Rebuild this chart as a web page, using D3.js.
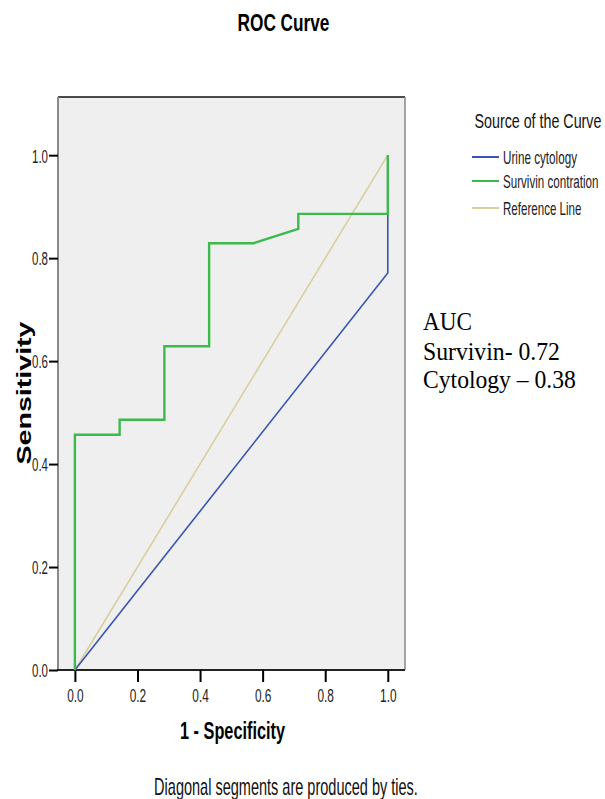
<!DOCTYPE html>
<html>
<head>
<meta charset="utf-8">
<script src="https://cdn.jsdelivr.net/npm/d3@7"></script>
<style>
  body { margin: 0; background: #fff; }
</style>
</head>
<body>
<svg id="roc" width="605" height="799"></svg>
<script>
// ROC points (x = 1 - specificity, y = sensitivity)
const survivinFpr = [0, 0, 0.143, 0.143, 0.286, 0.286, 0.429, 0.429, 0.571, 0.714, 0.714, 1, 1]
const survivinTpr = [0, 0.457, 0.457, 0.486, 0.486, 0.629, 0.629, 0.829, 0.829, 0.857, 0.886, 0.886, 1]
const cytologyFpr = [0, 1, 1]
const cytologyTpr = [0, 0.771, 1]
const referenceFpr = [0, 1]
const referenceTpr = [0, 1]

const tickValues = [0, 0.2, 0.4, 0.6, 0.8, 1.0]
const legendNames = ["Urine cytology", "Survivin contration", "Reference Line"]
const aucLines = ["AUC", "Survivin- 0.72", "Cytology \u2013 0.38"]

const colors = {cytology: "#3a56b4", survivin: "#3dba4c", reference: "#d8cf9e"}
const sans = "'Liberation Sans', Arial, sans-serif"
const serif = "'Liberation Serif', 'Times New Roman', serif"

const svg = d3.select("#roc")
const plot = {left: 58, right: 405, top: 97, bottom: 670}

function squeeze(sel, w) {
  sel.each(function(d, i) {
    const t = d3.select(this)
    const target = typeof w === "function" ? w(d, i) : w
    const natural = this.getComputedTextLength()
    const tx = +t.attr("x") || 0
    const ty = +t.attr("y") || 0
    const rot = t.attr("data-rot") || 0
    t.attr("x", 0).attr("y", 0)
      .attr("transform", `translate(${tx},${ty}) rotate(${rot}) scale(${target / natural},1)`)
  })
  return sel
}

const x = d3.scaleLinear().domain([-0.054, 1.055]).range([plot.left, plot.right])
const y = d3.scaleLinear().domain([0, 1.113]).range([plot.bottom, plot.top])

// plot background and frame
svg.append("rect")
  .attr("x", plot.left).attr("y", plot.top)
  .attr("width", plot.right - plot.left).attr("height", plot.bottom - plot.top)
  .attr("fill", "#efefef")
svg.append("line").attr("x1", plot.left).attr("x2", plot.right).attr("y1", plot.top).attr("y2", plot.top)
  .attr("stroke", "#111").attr("stroke-width", 1.5)
svg.append("line").attr("x1", plot.right).attr("x2", plot.right).attr("y1", plot.top).attr("y2", plot.bottom)
  .attr("stroke", "#8a8a8a").attr("stroke-width", 1.5)
svg.append("line").attr("x1", plot.left).attr("x2", plot.left).attr("y1", plot.top).attr("y2", plot.bottom)
  .attr("stroke", "#8a8a8a").attr("stroke-width", 2)
svg.append("line").attr("x1", plot.left - 1).attr("x2", plot.right).attr("y1", plot.bottom).attr("y2", plot.bottom)
  .attr("stroke", "#222").attr("stroke-width", 2)

// axes
const yAxis = svg.append("g")
  .attr("transform", `translate(${plot.left},0)`)
  .call(d3.axisLeft(y).tickValues(tickValues).tickFormat(d3.format(".1f")).tickSize(9).tickPadding(1))
yAxis.select(".domain").remove()
yAxis.selectAll(".tick line").attr("stroke", "#000").attr("stroke-width", 2)
squeeze(yAxis.selectAll("text").attr("font-size", 19).attr("font-family", sans)
  .attr("fill", "#222").attr("dy", "0.36em"), 16)

const xAxis = svg.append("g")
  .attr("transform", `translate(0,${plot.bottom})`)
  .call(d3.axisBottom(x).tickValues(tickValues).tickFormat(d3.format(".1f")).tickSize(12).tickPadding(7))
xAxis.select(".domain").remove()
xAxis.selectAll(".tick line").attr("stroke", "#000").attr("stroke-width", 2)
squeeze(xAxis.selectAll("text").attr("font-size", 19).attr("font-family", sans)
  .attr("fill", "#222"), 16.5)

// curves
const line = d3.line().x(d => x(d[0])).y(d => y(d[1]))
const series = [
  {fpr: referenceFpr, tpr: referenceTpr, color: colors.reference, width: 1.6},
  {fpr: cytologyFpr, tpr: cytologyTpr, color: colors.cytology, width: 1.6},
  {fpr: survivinFpr, tpr: survivinTpr, color: colors.survivin, width: 2.4}
]
svg.append("g").selectAll("path")
  .data(series)
  .join("path")
  .attr("d", s => line(d3.zip(s.fpr, s.tpr)))
  .attr("fill", "none")
  .attr("stroke", s => s.color)
  .attr("stroke-width", s => s.width)
  .attr("stroke-linejoin", "miter")

// titles and axis labels
squeeze(svg.append("text").attr("x", 283.5).attr("y", 30.5).attr("text-anchor", "middle")
  .attr("font-family", sans).attr("font-size", 24).attr("font-weight", "bold").text("ROC Curve"), 92)
squeeze(svg.append("text").attr("x", 232.5).attr("y", 738.5).attr("text-anchor", "middle")
  .attr("font-family", sans).attr("font-size", 24).attr("font-weight", "bold").text("1 - Specificity"), 105)
squeeze(svg.append("text").attr("x", 30.5).attr("y", 393).attr("data-rot", -90).attr("text-anchor", "middle")
  .attr("font-family", sans).attr("font-size", 21).attr("font-weight", "bold").text("Sensitivity"), 143)
squeeze(svg.append("text").attr("x", 286).attr("y", 795).attr("text-anchor", "middle")
  .attr("font-family", sans).attr("font-size", 23).attr("fill", "#111")
  .text("Diagonal segments are produced by ties."), 264)

// legend
squeeze(svg.append("text").attr("x", 474.5).attr("y", 127.5)
  .attr("font-family", sans).attr("font-size", 20.5).attr("fill", "#111").text("Source of the Curve"), 127)
const legendY = [157, 181, 208]
const legendColors = [colors.cytology, colors.survivin, colors.reference]
const legendWidths = [74, 95.5, 78.5]
const legend = svg.append("g").selectAll("g")
  .data(legendNames)
  .join("g")
  .attr("transform", (d, i) => `translate(0,${legendY[i]})`)
legend.append("line")
  .attr("x1", 472).attr("x2", 499)
  .attr("stroke", (d, i) => legendColors[i]).attr("stroke-width", 2)
squeeze(legend.append("text")
  .attr("x", 503).attr("y", 6.5)
  .attr("font-family", sans).attr("font-size", 18.5).attr("fill", "#222")
  .text(d => d), (d, i) => legendWidths[i])

// AUC note
const aucY = [330, 360, 387.5]
const aucWidths = [49, 137, 153]
squeeze(svg.append("g").selectAll("text")
  .data(aucLines)
  .join("text")
  .attr("x", 423).attr("y", (d, i) => aucY[i])
  .attr("font-family", serif)
  .attr("font-size", 25)
  .text(d => d), (d, i) => aucWidths[i])
</script>
</body>
</html>
